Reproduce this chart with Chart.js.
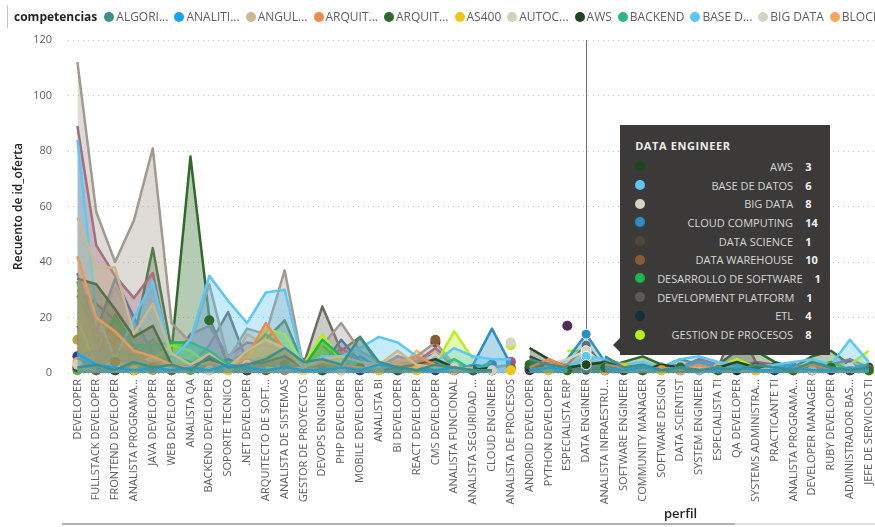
<!DOCTYPE html>
<html lang="es">
<head>
<meta charset="utf-8">
<title>Recuento de id_oferta por perfil y competencias</title>
<script src="https://cdn.jsdelivr.net/npm/chart.js@4.4.1/dist/chart.umd.min.js"></script>
<style>
  html, body { margin: 0; padding: 0; width: 875px; height: 527px; overflow: hidden; background: #fff; }
  body { font-family: 'Segoe UI', 'Open Sans', sans-serif; }
  #marco { position: relative; width: 875px; height: 527px; overflow: hidden; }
  #grafico { position: absolute; left: 0; top: 0; }
  #leyenda { position: absolute; left: 7px; top: 5px; height: 23px; border-left: 1px solid #c8c6c4;
             display: flex; align-items: center; white-space: nowrap; padding-left: 6px; font-size: 12px; color: #605e5c; }
  #leyenda .titulo { font-weight: 700; color: #252423; margin-right: 7px; }
  #leyenda .item { display: inline-flex; align-items: center; margin-right: 6px; }
  #leyenda .punto { width: 10px; height: 10px; border-radius: 50%; margin-right: 2px; }
  #eje-x { position: absolute; left: 664px; top: 504px; font-size: 13px; font-weight: 600; color: #252423; }
  #barra { position: absolute; left: 62px; top: 523px; width: 673px; height: 2px; background: #b3b0ad; }
  #pista { position: absolute; left: 735px; top: 523px; width: 140px; height: 2px; background: #e1dfdd; }
  #tooltip { position: absolute; top: 125px; width: 192px; height: 205px; padding: 14px 3px 11px 15px;
             background: #3b3a39; color: #d6d6d6; font-size: 11px; display: none; }
  #tooltip::before { content: ''; position: absolute; left: -7px; top: 213px; border-style: solid;
                     border-width: 7px 7px 7px 0; border-color: transparent #3b3a39 transparent transparent; }
  #tooltip .tt-titulo { height: 18px; line-height: 14px; font-weight: 700; letter-spacing: 0.6px; color: #ececec; }
  #tooltip .tt-fila { display: grid; grid-template-columns: 10px 1fr 22px; column-gap: 12px; align-items: center; height: 18.7px; }
  #tooltip .tt-punto { width: 10px; height: 10px; border-radius: 50%; }
  #tooltip .tt-nombre { text-align: right; white-space: nowrap; }
  #tooltip .tt-valor { font-weight: 700; color: #f3f3f3; white-space: nowrap; }
</style>
</head>
<body>
<div id="marco">
  <canvas id="grafico" width="888" height="523"></canvas>
  <div id="leyenda"><span class="titulo">competencias</span></div>
  <div id="eje-x">perfil</div>
  <div id="barra"></div>
  <div id="pista"></div>
  <div id="tooltip"></div>
</div>
<script>
const _ = null;

// perfiles (eje x) y etiquetas tal como se muestran recortadas
const perfiles = ['DEVELOPER', 'FULLSTACK DEVELOPER', 'FRONTEND DEVELOPER', 'ANALISTA PROGRAMADOR', 'JAVA DEVELOPER',
  'WEB DEVELOPER', 'ANALISTA QA', 'BACKEND DEVELOPER', 'SOPORTE TECNICO', '.NET DEVELOPER',
  'ARQUITECTO DE SOFTWARE', 'ANALISTA DE SISTEMAS', 'GESTOR DE PROYECTOS', 'DEVOPS ENGINEER', 'PHP DEVELOPER',
  'MOBILE DEVELOPER', 'ANALISTA BI', 'BI DEVELOPER', 'REACT DEVELOPER', 'CMS DEVELOPER',
  'ANALISTA FUNCIONAL', 'ANALISTA SEGURIDAD INFORMATICA', 'CLOUD ENGINEER', 'ANALISTA DE PROCESOS', 'ANDROID DEVELOPER',
  'PYTHON DEVELOPER', 'ESPECIALISTA ERP', 'DATA ENGINEER', 'ANALISTA INFRAESTRUCTURA', 'SOFTWARE ENGINEER',
  'COMMUNITY MANAGER', 'SOFTWARE DESIGN', 'DATA SCIENTIST', 'SYSTEM ENGINEER', 'ESPECIALISTA TI',
  'QA DEVELOPER', 'SYSTEMS ADMINISTRATOR', 'PRACTICANTE TI', 'ANALISTA PROGRAMADOR JAVA', 'DEVELOPER MANAGER',
  'RUBY DEVELOPER', 'ADMINISTRADOR BASE DE DATOS', 'JEFE DE SERVICIOS TI'];
const etiquetas = ['DEVELOPER', 'FULLSTACK DEVELOPER', 'FRONTEND DEVELOPER', 'ANALISTA PROGRAMA...', 'JAVA DEVELOPER',
  'WEB DEVELOPER', 'ANALISTA QA', 'BACKEND DEVELOPER', 'SOPORTE TECNICO', '.NET DEVELOPER',
  'ARQUITECTO DE SOFT...', 'ANALISTA DE SISTEMAS', 'GESTOR DE PROYECTOS', 'DEVOPS ENGINEER', 'PHP DEVELOPER',
  'MOBILE DEVELOPER', 'ANALISTA BI', 'BI DEVELOPER', 'REACT DEVELOPER', 'CMS DEVELOPER',
  'ANALISTA FUNCIONAL', 'ANALISTA SEGURIDAD ...', 'CLOUD ENGINEER', 'ANALISTA DE PROCESOS', 'ANDROID DEVELOPER',
  'PYTHON DEVELOPER', 'ESPECIALISTA ERP', 'DATA ENGINEER', 'ANALISTA INFRAESTRU...', 'SOFTWARE ENGINEER',
  'COMMUNITY MANAGER', 'SOFTWARE DESIGN', 'DATA SCIENTIST', 'SYSTEM ENGINEER', 'ESPECIALISTA TI',
  'QA DEVELOPER', 'SYSTEMS ADMINISTRA...', 'PRACTICANTE TI', 'ANALISTA PROGRAMA...', 'DEVELOPER MANAGER',
  'RUBY DEVELOPER', 'ADMINISTRADOR BAS...', 'JEFE DE SERVICIOS TI'];

// recuento de ofertas por competencia (null = sin ofertas en ese perfil)
const algoritmos = [2,3,1,4,2,3,1,6,2,3, 5,9,4,5,3,13,4,2,1,3, 2,1,1,_,5,3,2,_,6,2, 3,1,2,1,2,1,3,2,1,4, 2,1,2];
const analitica = [7,3,2,1,2,1,2,1,3,2, 1,2,1,1,2,1,3,2,1,1, 2,1,1,_,1,2,1,_,2,1, 2,1,2,1,1,2,1,1,2,1, 1,2,1];
const angular = [56,38,38,14,25,7,3,7,2,8, 12,9,2,5,6,4,3,8,3,2, 1,2,_,_,1,2,1,_,_,1, 2,1,_,1,2,1,1,_,2,1, 1,2,1];
const arqCloud = [42,20,15,8,6,3,2,4,2,6, 18,8,2,4,3,2,1,4,6,3, 2,1,1,_,2,5,2,_,3,2, 1,2,1,3,1,2,1,1,2,3, 1,2,1];
const arqSoftware = [_,_,4,_,2,_,_,19,_,2, _,3,_,1,_,2,_,1,_,2, _,1,_,_,3,_,1,_,2,_, 1,_,2,_,1,_,2,_,1,_, 2,_,1];
const as400 = [2,1,_,1,_,1,2,_,1,_, 2,1,_,1,2,_,1,_,1,_, 1,2,_,1,_,1,_,_,_,2, _,1,_,1,2,_,1,_,1,_, 2,_,1];
const autocad = [3,_,2,_,1,2,_,1,_,3, _,1,2,_,1,_,2,_,1,_, 2,_,1,_,_,1,_,_,2,_, 1,_,2,_,1,_,1,2,_,1, _,2,_];
const aws = [34,32,23,13,17,3,2,5,2,3, 4,6,2,4,3,2,1,2,3,5, 2,1,2,_,9,5,2,3,4,2, 1,3,2,1,2,4,2,1,2,3, 1,2,1];
const backend = [5,3,8,6,3,6,4,2,1,2, 3,1,2,3,1,2,1,2,1,2, 1,1,_,_,2,1,2,_,1,2, 1,2,1,1,2,1,2,1,2,1, 1,2,1];
const baseDatos = [84,22,5,20,33,5,12,35,26,18, 29,30,2,6,6,9,13,11,6,4, 9,6,5,5,_,3,2,6,5,3, 4,2,5,6,4,3,2,3,4,5, 3,12,4];
const bigData = [3,2,4,2,6,1,2,3,1,2, 3,2,1,2,1,3,2,1,2,7, 1,1,_,11,_,3,5,8,3,2, 1,2,1,2,1,3,2,1,2,1, 2,1,2];
const blockchain = [4,_,2,1,_,2,_,1,_,2, 1,_,2,_,1,_,1,_,2,_, 1,_,1,_,_,2,_,_,1,_, 2,_,1,_,2,_,1,_,1,_, 2,_,1];
const cloudComputing = [6,8,4,5,3,2,1,4,2,5, 3,2,1,3,2,6,2,4,3,2, 1,3,16,3,_,2,5,14,4,2, 3,1,2,4,2,3,1,2,3,2, 1,2,3];
const dataScience = [2,_,1,_,2,_,1,3,_,1, _,2,_,1,_,2,1,_,2,_, 1,_,1,_,6,3,2,1,_,1, _,2,1,_,1,_,2,_,1,3, _,1,_];
const dataWarehouse = [_,1,_,2,_,1,_,2,1,_, 1,_,2,_,1,_,1,2,_,12, _,1,_,2,_,1,3,10,2,_, 1,_,2,_,1,_,2,_,1,_, 2,_,1];
const desarrollo = [33,11,20,10,10,11,11,8,3,7, 14,9,2,12,6,3,2,4,3,2, 5,1,4,_,2,1,1,1,2,3, 1,2,1,3,2,1,2,3,1,2, 4,1,2];
const devPlatform = [4,3,2,1,3,2,1,2,5,2, 1,3,2,4,1,2,1,1,2,1, 2,1,1,_,4,3,3,1,2,1, 1,2,3,1,2,1,2,1,1,2, 1,1,2];
const etl = [_,2,_,1,_,2,1,_,_,1, _,3,_,1,_,2,_,1,_,2, 1,_,1,_,2,_,1,4,3,_, 1,_,2,1,_,1,_,2,_,1, _,1,_];
const gestion = [19,3,2,3,5,10,8,3,2,5, 16,14,3,14,4,2,1,3,2,3, 15,5,_,10,_,_,8,8,3,2, 4,1,2,3,2,5,2,3,2,4, 2,3,8];
const java = [112,58,40,55,81,18,11,32,5,16, 14,37,2,10,18,8,4,3,6,11, 3,2,2,3,_,2,1,_,2,3, 1,2,3,2,2,3,2,1,2,3, 2,1,2];
const javascript = [89,46,35,27,36,3,14,17,6,11, 10,8,5,3,9,4,2,6,4,9, 3,2,_,4,_,2,3,2,5,3, 2,3,2,5,3,2,4,3,2,1, 3,5,2];
const linux = [17,5,21,9,3,2,1,3,1,2, 3,2,1,2,1,2,1,2,_,11, _,1,1,_,1,2,1,_,1,2, 1,1,2,1,2,1,1,2,1,1, 2,1,1];
const metodologias = [28,15,10,6,12,4,3,10,22,4, 6,8,3,24,8,13,3,2,4,3, 2,1,1,_,2,2,1,_,2,2, 3,2,5,3,2,18,4,2,3,2, 1,2,1];
const nodeJs = [36,15,34,20,7,4,3,5,2,3, 4,2,1,3,12,4,2,3,6,2, 1,3,2,_,1,2,1,_,2,1, 3,1,2,1,1,2,1,1,2,1, 2,1,1];
const react = [18,14,31,18,4,6,2,3,1,14, 10,6,5,3,7,4,2,1,8,4, 2,1,_,_,1,2,1,_,1,2, 1,3,1,1,2,1,2,1,1,2, 1,1,2];
const testing = [30,25,19,12,45,8,78,20,3,8, 12,19,3,10,4,3,2,6,4,7, 3,2,1,_,2,3,1,_,2,4, 6,3,2,5,3,8,8,4,2,6, 8,3,2];
const oracle = [6,_,1,_,2,_,_,2,_,1, _,2,_,3,_,1,_,2,_,1, _,_,3,_,_,2,_,_,1,_, 2,_,1,_,2,_,_,1,_,2, _,3,_];
const powerBi = [3,_,1,_,9,_,2,_,1,_, 2,_,1,_,2,5,_,1,_,2, _,1,_,_,2,_,1,_,2,_, 1,_,2,_,1,_,2,_,1,_, 2,_,1];
const sap = [_,2,_,1,_,2,_,1,_,2, _,1,3,_,2,_,1,_,2,_, 1,_,2,_,_,1,_,2,_,1, _,2,_,1,_,2,_,1,_,2, _,1,_];
const scrum = [_,1,_,2,_,1,_,1,_,2, _,1,_,2,_,1,_,2,_,1, _,1,_,4,_,2,_,1,_,2, _,1,_,2,_,1,_,2,_,1, _,2,_];
const spring = [12,_,2,_,1,_,2,_,1,_, 2,_,1,_,2,_,1,_,2,_, 1,_,1,_,_,2,_,1,_,2, _,1,_,2,_,1,_,2,_,1, _,2,_];
const typescript = [2,_,_,1,_,2,_,1,_,2, _,1,_,2,_,1,_,2,_,3, _,1,_,_,2,_,1,_,2,_, 1,_,2,_,1,_,2,_,1,_, 2,_,1];
const uxui = [1,_,2,_,4,_,1,_,2,_, 1,_,2,_,1,_,2,_,1,_, 2,_,1,_,_,1,_,2,_,1, _,2,_,1,_,2,_,1,_,1, _,2,_];
const vue = [_,1,_,2,_,1,_,2,_,1, _,2,_,1,_,2,_,1,_,2, _,1,_,_,1,_,17,_,1,_, 2,_,1,_,2,_,1,_,2,_, 1,_,2];

const competencias = ['ALGORITMOS', 'ANALITICA DE DATOS', 'ANGULAR JS', 'ARQUITECTURA CLOUD', 'ARQUITECTURA DE SOFTWARE',
  'AS400', 'AUTOCAD', 'AWS', 'BACKEND', 'BASE DE DATOS', 'BIG DATA', 'BLOCKCHAIN', 'CLOUD COMPUTING',
  'DATA SCIENCE', 'DATA WAREHOUSE', 'DESARROLLO DE SOFTWARE', 'DEVELOPMENT PLATFORM', 'ETL',
  'GESTION DE PROCESOS', 'JAVA', 'JAVASCRIPT', 'LINUX', 'METODOLOGIAS AGILES', 'NODE JS', 'REACT',
  'TESTING', 'ORACLE', 'POWER BI', 'SAP', 'SCRUM', 'SPRING', 'TYPESCRIPT', 'UX/UI', 'VUE'];
const valores = [algoritmos, analitica, angular, arqCloud, arqSoftware, as400, autocad, aws, backend,
  baseDatos, bigData, blockchain, cloudComputing, dataScience, dataWarehouse, desarrollo, devPlatform, etl,
  gestion, java, javascript, linux, metodologias, nodeJs, react, testing, oracle, powerBi, sap, scrum,
  spring, typescript, uxui, vue];
const colores = ['#3e8e8a', '#1aa3f0', '#c9b98e', '#ef8a4b', '#2f6b2e', '#f0c419', '#d3d0c0', '#1e4620',
  '#2bb58a', '#5bc8f5', '#d6d3c2', '#f9a55a', '#2b8fc4', '#4e4636', '#8a5a35', '#19b84a', '#5b5b52',
  '#16303a', '#b6f01c', '#a39a8f', '#a5587a', '#8b1f1f', '#6e6a62', '#1565c0', '#fbb36b', '#2e6a29',
  '#2b3f92', '#f6d365', '#9fa8e6', '#b07a98', '#b8a24e', '#f5b07a', '#55b33a', '#4f2d55'];

const FUENTE = "'Segoe UI', 'Open Sans', sans-serif";
Chart.defaults.font.family = FUENTE;

function conAlfa(hex, a) {
  const n = parseInt(hex.slice(1), 16);
  return `rgba(${(n >> 16) & 255}, ${(n >> 8) & 255}, ${n & 255}, ${a})`;
}

// un punto solo se dibuja cuando no tiene vecinos (queda aislado)
function radioAislado(ctx) {
  const d = ctx.dataset.data, i = ctx.dataIndex;
  if (d[i] == null) return 0;
  return (d[i - 1] == null && d[i + 1] == null) ? 5 : 0;
}

const datasets = competencias.map((nombre, i) => ({
  label: nombre,
  data: valores[i],
  borderColor: colores[i],
  backgroundColor: conAlfa(colores[i], 0.35),
  fill: 'origin',
  borderWidth: 2.5,
  borderJoinStyle: 'round',
  spanGaps: false,
  clip: 8,
  pointRadius: radioAislado,
  pointBackgroundColor: colores[i],
  pointBorderWidth: 0,
  pointHoverRadius: 5,
  pointHoverBackgroundColor: colores[i],
  pointHoverBorderColor: '#ffffff',
  pointHoverBorderWidth: 1
}));

// leyenda superior (solo cabe la primera fila)
const medidor = document.createElement('canvas').getContext('2d');
medidor.font = '12px ' + FUENTE;
function recortar(texto, maxAncho) {
  if (medidor.measureText(texto).width <= maxAncho) return texto;
  let t = texto;
  while (t.length > 1 && medidor.measureText(t + '...').width > maxAncho) t = t.slice(0, -1);
  return t + '...';
}
const leyenda = document.getElementById('leyenda');
competencias.slice(0, 12).forEach((nombre, i) => {
  const item = document.createElement('span');
  item.className = 'item';
  item.innerHTML = `<span class="punto" style="background:${colores[i]}"></span>${recortar(nombre, 56)}`;
  leyenda.appendChild(item);
});

function tooltipExterno({chart, tooltip}) {
  const el = document.getElementById('tooltip');
  if (tooltip.opacity === 0) { el.style.display = 'none'; return; }
  const filas = tooltip.dataPoints.filter(p => p.raw != null).slice(0, 10);
  let html = `<div class="tt-titulo">${tooltip.title[0]}</div>`;
  filas.forEach(p => {
    html += `<div class="tt-fila"><span class="tt-punto" style="background:${p.dataset.borderColor}"></span>` +
            `<span class="tt-nombre">${p.dataset.label}</span><span class="tt-valor">${p.formattedValue}</span></div>`;
  });
  el.innerHTML = html;
  el.style.display = 'block';
  el.style.left = (chart.canvas.offsetLeft + tooltip.caretX + 34) + 'px';
}

// linea vertical del perfil seleccionado
const lineaGuia = {
  id: 'lineaGuia',
  beforeDatasetsDraw(chart) {
    const act = chart.getActiveElements();
    if (!act.length) return;
    const x = Math.round(act[0].element.x) + 0.5;
    const {top, bottom} = chart.chartArea;
    const ctx = chart.ctx;
    ctx.save();
    ctx.strokeStyle = '#6f6f6f';
    ctx.lineWidth = 1;
    ctx.beginPath();
    ctx.moveTo(x, top);
    ctx.lineTo(x, bottom);
    ctx.stroke();
    ctx.restore();
  }
};

const chart = new Chart(document.getElementById('grafico'), {
  type: 'line',
  data: { labels: perfiles, datasets: datasets },
  plugins: [lineaGuia],
  options: {
    responsive: false,
    animation: false,
    events: [],
    layout: { padding: { top: 40, right: 0, bottom: 0, left: 0 } },
    scales: {
      x: {
        offset: true,
        grid: { display: false, drawTicks: false },
        border: { display: false },
        ticks: {
          autoSkip: false, minRotation: 90, maxRotation: 90, padding: 6,
          color: '#605e5c', font: { size: 11 },
          callback: (v, i) => etiquetas[i]
        },
        afterFit: s => { s.height = 150; }
      },
      y: {
        min: 0, max: 120,
        ticks: { stepSize: 20, padding: 16, color: '#605e5c', font: { size: 11 } },
        grid: { color: '#c8c6c4', drawTicks: false },
        border: { display: false, dash: [1, 4] },
        title: {
          display: true, text: 'Recuento de id_oferta', color: '#252423',
          font: { size: 12, weight: '600' }, padding: { top: 11, bottom: 0 }
        },
        afterFit: s => { s.width = 68; }
      }
    },
    plugins: {
      legend: { display: false },
      tooltip: { enabled: false, mode: 'index', intersect: false, external: tooltipExterno }
    }
  }
});

// perfil resaltado con su tooltip
const idx = perfiles.indexOf('DATA ENGINEER');
const activos = [];
chart.data.datasets.forEach((ds, i) => {
  if (ds.data[idx] != null) activos.push({ datasetIndex: i, index: idx });
});
chart.setActiveElements(activos);
chart.update('none');
const ref = chart.getDatasetMeta(activos[0].datasetIndex).data[idx];
chart.tooltip.setActiveElements(activos, { x: ref.x, y: ref.y });
</script>
</body>
</html>
